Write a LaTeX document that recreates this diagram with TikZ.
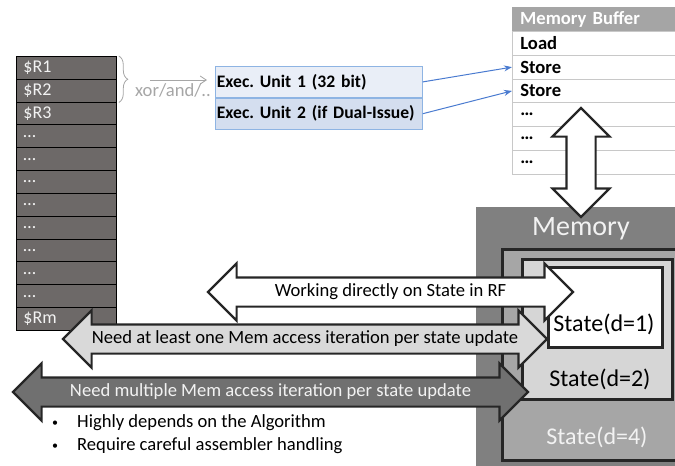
\documentclass[tikz,border=0pt]{standalone}
\usepackage{fontspec}
\setmainfont{Carlito}
\usepackage{xcolor}
\usetikzlibrary{arrows.meta,shapes.arrows,decorations.pathreplacing}
\definecolor{regbg}{HTML}{6D6968}
\definecolor{regtxt}{HTML}{F2F2F2}
\definecolor{opgray}{HTML}{A6A6A6}
\definecolor{unitA}{HTML}{E9EEF7}
\definecolor{unitB}{HTML}{D4DEEF}
\definecolor{unitline}{HTML}{8EB4E3}
\definecolor{linkblue}{HTML}{4A7BD0}
\definecolor{hdrgray}{HTML}{A5A5A5}
\definecolor{rowline}{HTML}{C8C8C8}
\definecolor{memgray}{HTML}{808080}
\definecolor{dfour}{HTML}{A6A6A6}
\definecolor{dtwo}{HTML}{D6D6D6}
\definecolor{outline}{HTML}{262626}
\definecolor{lgray}{HTML}{D9D9D9}
\definecolor{dgray}{HTML}{707070}
\definecolor{memtxt}{HTML}{F2F2F2}
\tikzset{
  regcell/.style={draw=black, line width=0.8pt, fill=regbg, text=regtxt, anchor=north west,
    minimum width=100pt, minimum height=22.83pt, text width=86pt, inner xsep=7pt, inner ysep=1pt,
    align=left, font=\fontsize{18}{20}\selectfont},
  unitbox/.style={draw=unitline, line width=0.8pt, anchor=north west, minimum width=207pt,
    minimum height=31pt, text width=204pt, inner xsep=1.5pt, align=left,
    font=\fontsize{17.6}{20}\selectfont\bfseries},
  bufhead/.style={fill=hdrgray, text=white, anchor=north west, minimum width=175pt,
    minimum height=24pt, text width=159pt, inner xsep=8pt, inner ysep=1pt, align=left,
    font=\fontsize{18.6}{20}\selectfont\bfseries},
  bufrow/.style={draw=rowline, line width=0.8pt, fill=white, anchor=north west, minimum width=175pt,
    minimum height=23.8pt, text width=159pt, inner xsep=8pt, inner ysep=1pt, align=left,
    font=\fontsize{18.6}{20}\selectfont\bfseries},
  opbrace/.style={draw=opgray, line width=0.8pt, decorate, decoration={brace, amplitude=9pt}},
  opline/.style={draw=opgray, line width=0.9pt, -{Straight Barb[length=6pt,width=8pt]}, shorten >=8pt},
  oplab/.style={text=opgray, font=\fontsize{18.6}{20}\selectfont},
  link/.style={draw=linkblue, line width=1pt, -{Stealth[length=8pt,width=6pt]}},
  statebox/.style={draw=outline, line width=2.5pt, anchor=north west, inner sep=0pt},
  statelab/.style={font=\fontsize{24}{26}\selectfont},
  blockarrow/.style={double arrow, draw=outline, line width=2.2pt, double arrow head extend=14pt,
    double arrow tip angle=90, inner xsep=0pt, inner ysep=5pt, text height=13pt, text depth=4pt,
    font=\fontsize{18.6}{20}\selectfont},
  bullet/.style={anchor=west, inner sep=0pt, font=\fontsize{18.6}{20}\selectfont},
}
\newcommand\smallbul{\makebox[26pt][l]{\hspace{1pt}\raisebox{1pt}{\fontsize{12}{12}\selectfont\textbullet}}}
\begin{document}
\begin{tikzpicture}[x=1pt,y=-1pt]
  \useasboundingbox (0,0) rectangle (675,466);
  \foreach \lab [count=\i from 0] in {\$R1,\$R2,\$R3,\ldots,\ldots,\ldots,\ldots,\ldots,\ldots,\ldots,\ldots,\$Rm}
    \node[regcell] (r\i) at (16,{56+22.83*\i}) {\lab};
  \node[unitbox, fill=unitA] (eu1) at (215,66) {Exec.\ Unit 1 (32 bit)};
  \node[unitbox, fill=unitB] (eu2) at (eu1.south west) {Exec.\ Unit 2 (if Dual-Issue)};
  \draw[opbrace] ([xshift=2pt]r0.north east) -- ([xshift=2pt]r1.south east);
  \coordinate (opsrc) at (150,80);
  \draw[opline] (opsrc) -- (opsrc -| eu1.west);
  \node[oplab] (ops) at (173,90) {xor/and/..};
  \node[bufhead] (mbuf) at (512,7) {Memory Buffer};
  \foreach \lab/\nm [count=\i from 0] in {Load/ld,Store/st1,Store/st2,\ldots/e1,\ldots/e2,\ldots/e3}
    \node[bufrow] (\nm) at (512,{31+23.8*\i}) {\lab};
  \draw[link] (eu1.east) -- (st1.west);
  \draw[link] (eu2.east) -- (st2.west);
  \node[fill=memgray, anchor=north west, inner sep=0pt, minimum width=210pt, minimum height=270pt] (mem) at (476,207) {};
  \node[text=memtxt, font=\fontsize{28}{30}\selectfont] (memt) at (581,229) {Memory};
  \node[statebox, fill=dfour, minimum width=190pt, minimum height=211pt] (d4) at (501,248) {};
  \node[statebox, fill=dtwo, minimum width=150pt, minimum height=140pt] (d2) at (521,258) {};
  \node[statebox, fill=white, minimum width=114pt, minimum height=80pt] (d1) at (547,266) {};
  \node[statelab, text=memtxt] (t4) at (597,437) {State(d=4)};
  \node[statelab] (t2) at (600,379) {State(d=2)};
  \node[statelab] (t1) at (604,324) {State(d=1)};
  \node[blockarrow, fill=white, rotate=90, minimum height=109pt, inner ysep=0pt, text height=27pt, text depth=0pt] (io) at (581,162.5) {};
  \node[blockarrow, fill=white, minimum height=365pt] (wrk) at (390.5,292) {Working directly on State in RF};
  \node[blockarrow, fill=lgray, minimum height=484pt] (one) at (305,339) {Need at least one Mem access iteration per state update};
  \node[blockarrow, fill=dgray, text=memtxt, minimum height=515pt] (mult) at (270.5,392) {Need multiple Mem access iteration per state update};
  \node[bullet] (b1) at (51,423) {\smallbul Highly depends on the Algorithm};
  \node[bullet] (b2) at (51,446) {\smallbul Require careful assembler handling};
\end{tikzpicture}
\end{document}
